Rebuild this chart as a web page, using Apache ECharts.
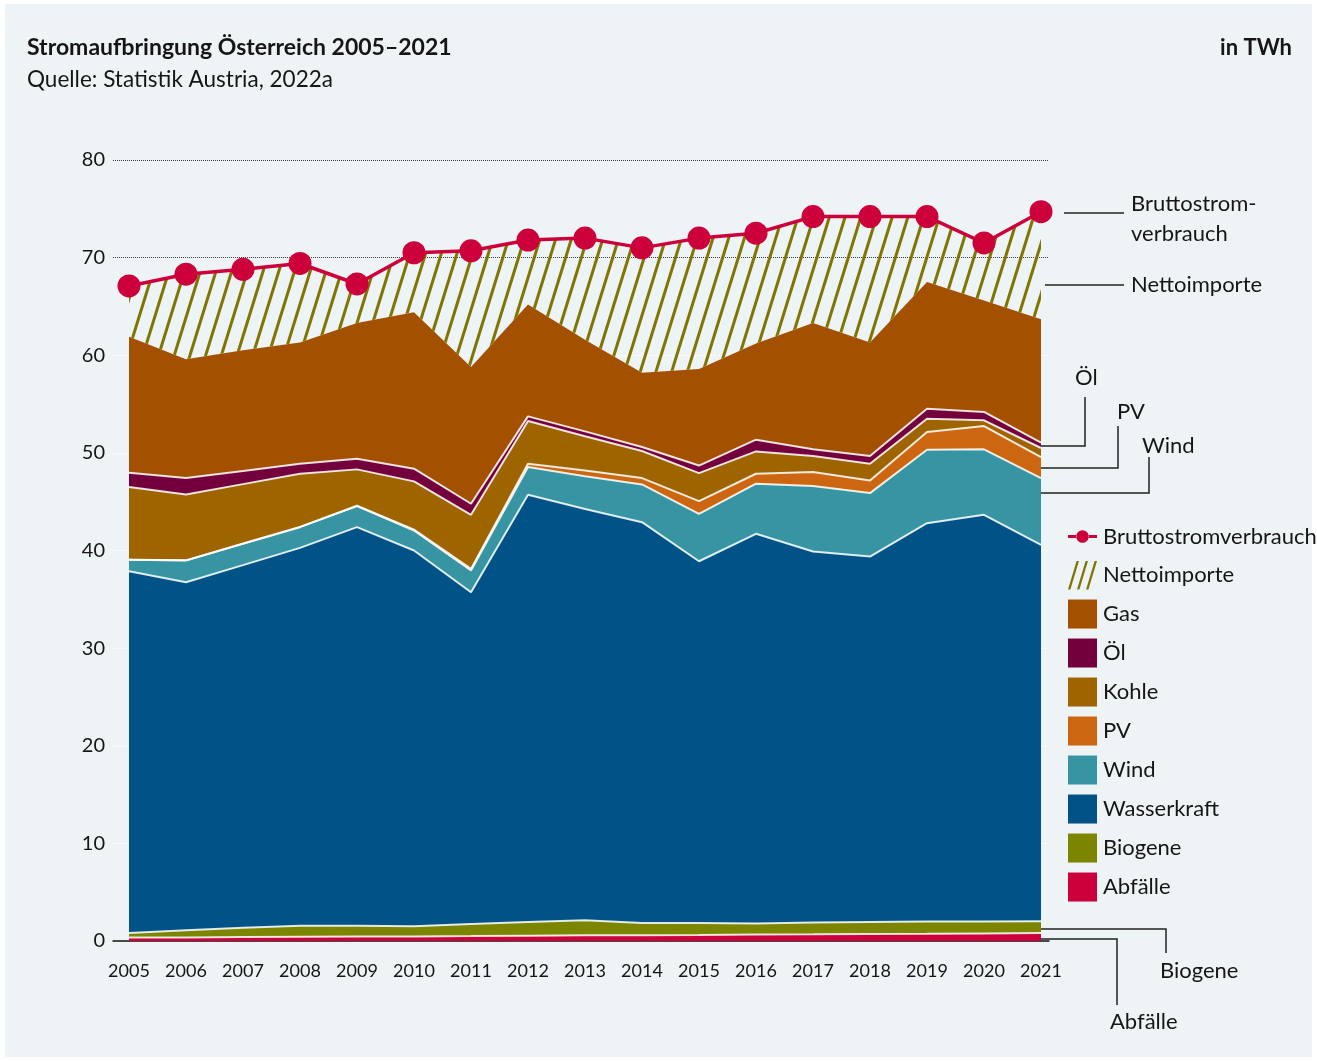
<!DOCTYPE html>
<html>
<head>
<meta charset="utf-8">
<title>Stromaufbringung Österreich 2005–2021</title>
<script src="https://cdn.jsdelivr.net/npm/echarts@6/dist/echarts.min.js"></script>
<style>
  html, body { margin: 0; padding: 0; background: #ffffff; }
  #panel { position: absolute; left: 5px; top: 4px; width: 1307px; height: 1053px; background: #eef3f6; }
  #chart { position: absolute; left: 0; top: 0; width: 1317px; height: 1061px; }
</style>
</head>
<body>
<div id="panel"></div>
<div id="chart"></div>
<script>
// Werte in TWh
const years = ['2005', '2006', '2007', '2008', '2009', '2010', '2011', '2012', '2013',
  '2014', '2015', '2016', '2017', '2018', '2019', '2020', '2021']
const abfaelle = [0.35, 0.37, 0.40, 0.43, 0.45, 0.47, 0.50, 0.55, 0.58, 0.60, 0.62, 0.66, 0.68, 0.72, 0.74, 0.78, 0.82]
const biogene = [0.47, 0.73, 0.95, 1.14, 1.10, 1.03, 1.24, 1.40, 1.54, 1.25, 1.23, 1.14, 1.22, 1.23, 1.26, 1.22, 1.20]
const wasserkraft = [37.06, 35.65, 37.15, 38.70, 40.84, 38.50, 33.99, 43.76, 42.13, 41.05, 37.05, 39.91, 38.00, 37.43, 40.80, 41.66, 38.56]
const wind = [1.16, 2.22, 2.18, 2.12, 2.16, 2.05, 2.22, 2.84, 3.35, 3.87, 4.86, 5.13, 6.70, 6.50, 7.52, 6.70, 6.84]
const pv = [0.02, 0.02, 0.03, 0.03, 0.04, 0.09, 0.17, 0.34, 0.60, 0.65, 1.30, 1.02, 1.43, 1.30, 1.82, 2.39, 2.15]
const kohle = [7.44, 6.75, 6.09, 5.44, 3.72, 4.94, 5.54, 4.37, 3.50, 2.77, 2.87, 2.29, 1.64, 1.71, 1.36, 0.58, 0.93]
const oel = [1.46, 1.68, 1.35, 1.03, 1.09, 1.30, 1.13, 0.48, 0.50, 0.41, 0.77, 1.20, 0.69, 0.78, 1.03, 0.86, 0.54]
const gas = [13.94, 12.18, 12.35, 12.41, 13.90, 16.02, 14.01, 11.46, 9.40, 7.60, 9.90, 9.85, 12.94, 11.63, 12.97, 11.41, 12.66]
const nettoimporte = [5.2, 8.7, 8.3, 8.1, 4.0, 6.1, 11.9, 6.6, 10.4, 12.8, 13.4, 11.3, 10.9, 12.9, 6.7, 5.9, 11.0]
const bruttostromverbrauch = [67.1, 68.3, 68.8, 69.4, 67.3, 70.5, 70.7, 71.8, 72.0, 71.0, 72.0, 72.5, 74.2, 74.2, 74.2, 71.5, 74.7]
const yTicks = [0, 10, 20, 30, 40, 50, 60, 70, 80]

const FONT = 'Lato, "Noto Sans", sans-serif'
const TEXT = '#161616'
const HATCH = '#7f7500'

const chart = echarts.init(document.getElementById('chart'))

// gestapelte Flaechen, von unten nach oben
function areaSeries (name, data, color, edge) {
  return {
    name: name,
    type: 'line',
    xAxisIndex: 1,
    yAxisIndex: 1,
    stack: 'aufbringung',
    data: data,
    showSymbol: false,
    symbol: 'none',
    itemStyle: { color: color },
    lineStyle: edge === false ? { width: 0 } : { color: 'rgba(255,255,255,0.85)', width: 2 },
    areaStyle: { color: color, opacity: 1 },
    emphasis: { disabled: true },
    silent: true
  }
}

function text (str, x, y, opts) {
  opts = opts || {}
  return {
    type: 'text',
    x: x,
    y: y,
    silent: true,
    style: {
      text: str,
      fill: opts.fill || TEXT,
      font: (opts.bold ? 'bold ' : '') + (opts.size || 22) + 'px ' + FONT,
      textAlign: opts.align || 'left',
      textVerticalAlign: 'middle',
      align: opts.align || 'left',
      verticalAlign: 'middle'
    }
  }
}

function leader (points) {
  return {
    type: 'polyline',
    silent: true,
    shape: { points: points },
    style: { stroke: '#222', lineWidth: 1.5, fill: null }
  }
}

const option = {
  animation: false,
  textStyle: { fontFamily: FONT },
  grid: [
    { left: 113, right: 268, top: 160, bottom: 120 },
    { left: 129, right: 276, top: 160, bottom: 120 }
  ],
  xAxis: [
    {
      gridIndex: 0,
      type: 'value',
      min: 0,
      max: 1,
      axisLabel: { show: false },
      axisTick: { show: false },
      splitLine: { show: false },
      axisLine: { show: true, lineStyle: { color: '#111', width: 1.5 } }
    },
    {
      gridIndex: 1,
      type: 'category',
      boundaryGap: false,
      data: years,
      axisLine: { show: false },
      axisTick: { show: false },
      axisLabel: { fontSize: 18, color: TEXT, margin: 21, fontFamily: FONT }
    }
  ],
  yAxis: [
    {
      gridIndex: 0,
      type: 'value',
      min: yTicks[0],
      max: yTicks[yTicks.length - 1],
      interval: 10,
      axisLine: { show: false },
      axisTick: { show: false },
      axisLabel: { fontSize: 20, color: TEXT, margin: 8, fontFamily: FONT },
      splitLine: {
        lineStyle: {
          type: 'dotted',
          width: 1,
          color: ['rgba(255,255,255,0)', '#ffffff', '#ffffff', '#ffffff', '#ffffff', '#ffffff', '#ffffff', '#3a3a3a', '#3a3a3a']
        }
      }
    },
    {
      gridIndex: 1,
      type: 'value',
      min: yTicks[0],
      max: yTicks[yTicks.length - 1],
      interval: 10,
      show: false,
      splitLine: { show: false }
    }
  ],
  legend: {
    orient: 'vertical',
    left: 1063,
    top: 517,
    icon: 'rect',
    itemWidth: 29,
    itemHeight: 29,
    itemGap: 10,
    selectedMode: false,
    textStyle: { fontSize: 22, color: TEXT, fontFamily: FONT, padding: [0, 0, 0, 1] },
    data: [
      {
        name: 'Bruttostromverbrauch',
        // Linie mit Punkt; winzige Ecken halten die Box auf 30x30
        icon: 'path://M0,0L0.01,0L0,0.01Z M30,30L29.99,30L30,29.99Z ' +
          'M0,13.5L9,13.5L9,16.5L0,16.5Z M21,13.5L30,13.5L30,16.5L21,16.5Z ' +
          'M8.5,15a6.5,6.5 0 1,0 13,0a6.5,6.5 0 1,0 -13,0Z',
        itemStyle: { color: '#cc003a', borderWidth: 0 }
      },
      {
        name: 'Nettoimporte',
        icon: 'path://M0,30L9,0L11.5,0L2.5,30Z M9.5,30L18.5,0L21,0L12,30Z M19,30L28,0L30.5,0L21.5,30Z',
        itemStyle: { color: HATCH, borderWidth: 0, decal: 'none' }
      },
      'Gas', 'Öl', 'Kohle', 'PV', 'Wind', 'Wasserkraft', 'Biogene', 'Abfälle'
    ]
  },
  series: [
    areaSeries('Abfälle', abfaelle, '#cc003a'),
    areaSeries('Biogene', biogene, '#7b8500'),
    areaSeries('Wasserkraft', wasserkraft, '#005287'),
    areaSeries('Wind', wind, '#3795a3'),
    areaSeries('PV', pv, '#cc6610'),
    areaSeries('Kohle', kohle, '#9d6400'),
    areaSeries('Öl', oel, '#73003c'),
    areaSeries('Gas', gas, '#a35000', false),
    {
      name: 'Nettoimporte',
      type: 'line',
      xAxisIndex: 1,
      yAxisIndex: 1,
      stack: 'aufbringung',
      data: nettoimporte,
      showSymbol: false,
      symbol: 'none',
      silent: true,
      lineStyle: { width: 0 },
      itemStyle: {
        color: HATCH,
        decal: {
          symbol: 'rect',
          symbolSize: 1,
          color: HATCH,
          backgroundColor: 'rgba(0,0,0,0)',
          dashArrayX: [3, 11.5],
          dashArrayY: [10, 0],
          rotation: 0.3
        }
      },
      areaStyle: { color: 'rgba(0,0,0,0)', opacity: 1 }
    },
    {
      name: 'Bruttostromverbrauch',
      type: 'line',
      xAxisIndex: 1,
      yAxisIndex: 1,
      data: bruttostromverbrauch,
      z: 5,
      symbol: 'circle',
      symbolSize: 23,
      silent: true,
      lineStyle: { color: '#cc003a', width: 3.5 },
      itemStyle: { color: '#cc003a', borderWidth: 0 }
    }
  ],
  graphic: [
    text('Stromaufbringung Österreich 2005–2021', 27, 48, { bold: true, size: 23 }),
    text('Quelle: Statistik Austria, 2022a', 27, 80, { size: 22.5 }),
    text('in TWh', 1292, 48, { bold: true, size: 22, align: 'right' }),
    // Beschriftungen in den Flaechen
    text('Gas', 163, 414, { fill: '#ffffff' }),
    text('Kohle', 163, 522, { fill: '#ffffff' }),
    text('Wasserkraft', 155, 723, { fill: '#ffffff' }),
    // Hinweislinien rechts
    leader([[1064, 213], [1124, 213]]),
    text('Bruttostrom-', 1131, 204),
    text('verbrauch', 1131, 234),
    leader([[1045, 285], [1124, 285]]),
    text('Nettoimporte', 1131, 285),
    text('Öl', 1075, 378),
    leader([[1085, 397], [1085, 446], [1040, 446]]),
    text('PV', 1117, 412),
    leader([[1118, 426], [1118, 468], [1037, 468]]),
    text('Wind', 1142, 446),
    leader([[1149, 457], [1149, 493], [1037, 493]]),
    leader([[1041, 929], [1166, 929], [1166, 953]]),
    text('Biogene', 1160, 971),
    leader([[1041, 939], [1117, 939], [1117, 1005]]),
    text('Abfälle', 1110, 1022)
  ]
}

chart.setOption(option)
</script>
</body>
</html>
